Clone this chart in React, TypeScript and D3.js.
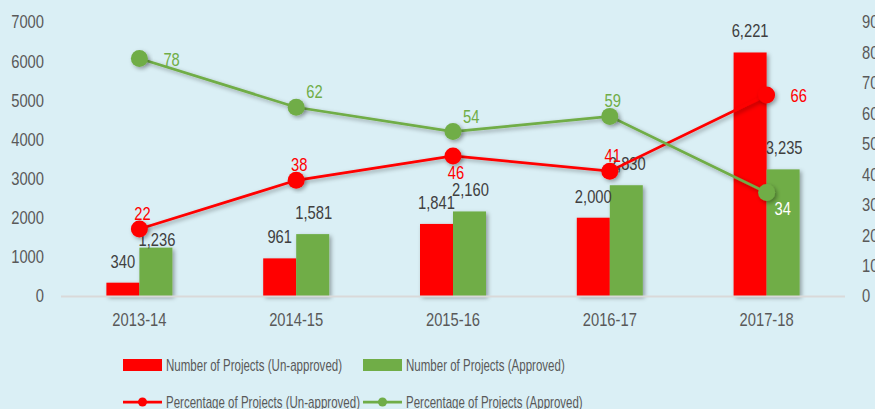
import React, { useEffect, useRef } from 'react';
import * as d3 from 'd3';

const width = 875;
const height = 409;
const RED = '#ff0000';
const GREEN = '#70ad47';
const BG = '#daeff5';
const FONT = '"Liberation Sans", Arial, sans-serif';
// the original uses a narrow font; squeeze the regular one horizontally
const NARROW = 0.82;
const LEGEND_NARROW = 0.72;

const years = ['2013-14', '2014-15', '2015-16', '2016-17', '2017-18'];
const unapprovedCount = [340, 961, 1841, 2000, 6221];
const approvedCount = [1236, 1581, 2160, 2830, 3235];
const unapprovedPct = [22, 38, 46, 41, 66];
const approvedPct = [78, 62, 54, 59, 34];
const leftTicks = [0, 1000, 2000, 3000, 4000, 5000, 6000, 7000];
const rightTicks = [0, 10, 20, 30, 40, 50, 60, 70, 80, 90];

// where the percentage labels sit around their points (as in the original)
const unapprovedPctPos = ['above', 'above', 'below', 'above', 'right'];
const approvedPctPos = ['right', 'aboveRight', 'aboveRight', 'above', 'belowRight'];

const App = () => {
  const ref = useRef(null);

  useEffect(() => {
    d3.select(ref.current).selectAll('*').remove();

    const svg = d3.select(ref.current)
      .append('svg')
      .attr('width', width)
      .attr('height', height)
      .style('position', 'absolute')
      .style('left', 0)
      .style('top', 0)
      .style('background-color', BG)
      .style('font-family', FONT);

    const defs = svg.append('defs');
    defs.append('filter')
      .attr('id', 'shadow')
      .attr('x', '-30%').attr('y', '-30%')
      .attr('width', '160%').attr('height', '160%')
      .append('feDropShadow')
      .attr('dx', 2).attr('dy', 2)
      .attr('stdDeviation', 2)
      .attr('flood-color', '#000')
      .attr('flood-opacity', 0.35);

    const x0 = d3.scaleBand().domain(years).range([61, 845]);
    const x1 = d3.scaleBand().domain(['un', 'ap']).range([0, 66]);
    const yL = d3.scaleLinear().domain([0, 7000]).range([296, 22]);
    const yR = d3.scaleLinear().domain([0, 90]).range([296, 22]);
    const cx = (d) => x0(d) + x0.bandwidth() / 2;

    // squeezed text helper
    const label = (g, x, y, str, opt) => {
      const o = Object.assign({ size: 18, fill: '#595959', anchor: 'start', sx: NARROW, dy: 0 }, opt || {});
      return g.append('text')
        .attr('transform', `translate(${x},${y}) scale(${o.sx},1)`)
        .attr('dy', o.dy)
        .attr('text-anchor', o.anchor)
        .attr('font-size', o.size)
        .attr('fill', o.fill)
        .text(str);
    };

    const axisG = svg.append('g');
    leftTicks.forEach((t) => label(axisG, 44, yL(t), t, { anchor: 'end', dy: '0.36em' }));
    rightTicks.forEach((t) => label(axisG, 862, yR(t), t, { dy: '0.36em' }));

    // bars
    const bars = svg.append('g').attr('filter', 'url(#shadow)');
    bars.selectAll('rect.un')
      .data(years)
      .enter()
      .append('rect')
      .attr('x', (d) => cx(d) - 33 + x1('un'))
      .attr('y', (d, i) => yL(unapprovedCount[i]))
      .attr('width', x1.bandwidth())
      .attr('height', (d, i) => yL(0) - yL(unapprovedCount[i]))
      .attr('fill', RED);
    bars.selectAll('rect.ap')
      .data(years)
      .enter()
      .append('rect')
      .attr('x', (d) => cx(d) - 33 + x1('ap'))
      .attr('y', (d, i) => yL(approvedCount[i]))
      .attr('width', x1.bandwidth())
      .attr('height', (d, i) => yL(0) - yL(approvedCount[i]))
      .attr('fill', GREEN);

    // axis line
    svg.append('line')
      .attr('x1', 61).attr('x2', 845)
      .attr('y1', 296.5).attr('y2', 296.5)
      .attr('stroke', '#d9d9d9')
      .attr('stroke-width', 2);

    // category labels
    years.forEach((d) => label(axisG, cx(d), 326, d, { anchor: 'middle' }));

    // bar value labels
    const fmt = d3.format(',');
    const barLabels = svg.append('g');
    years.forEach((d, i) => {
      label(barLabels, cx(d) - 33 + x1('un') + x1.bandwidth() / 2, yL(unapprovedCount[i]) - 15,
        fmt(unapprovedCount[i]), { anchor: 'middle', fill: '#404040' });
      label(barLabels, cx(d) - 33 + x1('ap') + x1.bandwidth() / 2 + 1, yL(approvedCount[i]) - (i === 0 ? 2 : 15),
        fmt(approvedCount[i]), { anchor: 'middle', fill: '#404040' });
    });

    // lines
    const line = d3.line()
      .x((d, i) => cx(years[i]))
      .y((d) => yR(d));

    const drawSeries = (vals, color, pos, labelColors) => {
      const g = svg.append('g');
      g.append('path')
        .datum(vals)
        .attr('d', line)
        .attr('fill', 'none')
        .attr('stroke', color)
        .attr('stroke-width', 2.75)
        .attr('filter', 'url(#shadow)');
      g.selectAll('circle')
        .data(vals)
        .enter()
        .append('circle')
        .attr('cx', (d, i) => cx(years[i]))
        .attr('cy', (d) => yR(d))
        .attr('r', 8.5)
        .attr('fill', color)
        .attr('filter', 'url(#shadow)');
      vals.forEach((d, i) => {
        const px = cx(years[i]);
        const py = yR(d);
        let x = px + 3;
        let y = py - 9;
        let anchor = 'middle';
        if (pos[i] === 'right') { x = px + 24; y = py + 7; anchor = 'start'; }
        if (pos[i] === 'aboveRight') { x = px + 10; anchor = 'start'; }
        if (pos[i] === 'below') { y = py + 23; }
        if (pos[i] === 'belowRight') { x = px + 8; y = py + 23; anchor = 'start'; }
        label(g, x, y, d, { anchor: anchor, fill: labelColors[i] });
      });
    };

    drawSeries(unapprovedPct, RED, unapprovedPctPos, unapprovedPct.map(() => RED));
    drawSeries(approvedPct, GREEN, approvedPctPos, approvedPct.map((d, i) => approvedPctPos[i] === 'belowRight' ? '#ffffff' : GREEN));

    // legend
    const legend = svg.append('g');
    const legendItems = [
      { label: 'Number of Projects (Un-approved)', color: RED, type: 'bar', x: 123, y: 365 },
      { label: 'Number of Projects (Approved)', color: GREEN, type: 'bar', x: 363, y: 365 },
      { label: 'Percentage of Projects (Un-approved)', color: RED, type: 'line', x: 123, y: 402 },
      { label: 'Percentage of Projects (Approved)', color: GREEN, type: 'line', x: 363, y: 402 },
    ];
    legendItems.forEach((it) => {
      if (it.type === 'bar') {
        legend.append('rect')
          .attr('x', it.x).attr('y', it.y - 6)
          .attr('width', 39).attr('height', 12)
          .attr('fill', it.color);
      } else {
        legend.append('line')
          .attr('x1', it.x).attr('x2', it.x + 39)
          .attr('y1', it.y).attr('y2', it.y)
          .attr('stroke', it.color).attr('stroke-width', 2.75);
        legend.append('circle')
          .attr('cx', it.x + 19.5).attr('cy', it.y)
          .attr('r', 4.5)
          .attr('fill', it.color);
      }
      label(legend, it.x + 43, it.y, it.label, { size: 16, sx: LEGEND_NARROW, dy: '0.36em' });
    });
  });

  return <div ref={ref}></div>;
};

export default App;
